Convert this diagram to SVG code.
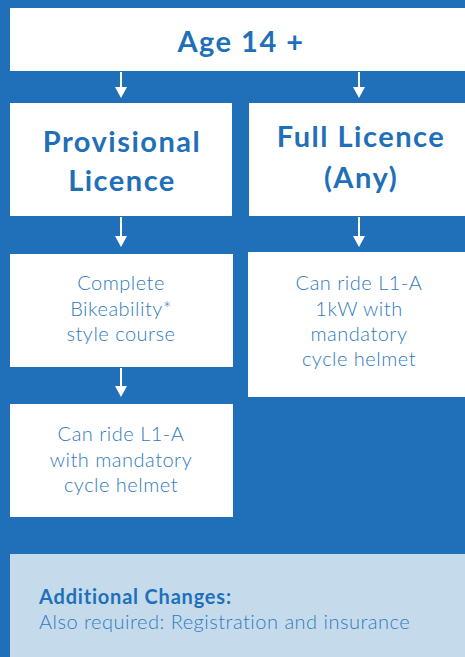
<svg xmlns="http://www.w3.org/2000/svg" width="465" height="657" viewBox="0 0 465 657">
<defs>
<style>
.box{fill:#ffffff}
.t{font-family:Lato,"Open Sans",sans-serif;fill:#1f70b8;text-anchor:middle}
.h{font-size:29px;font-weight:700;letter-spacing:1.5px}
.b{font-size:20px;font-weight:300;fill:#2f7bc0;letter-spacing:0.5px}
.c{stroke:#ffffff;stroke-width:2;fill:none}
.ah{fill:#ffffff}
</style>
</defs>
<rect x="0" y="0" width="465" height="657" fill="#1f70b8"/>
<g id="age">
<rect class="box" x="10" y="8" width="455" height="63"/>
<text class="t h" x="241" y="52">Age 14 +</text>
</g>
<g id="provisional">
<rect class="box" x="10" y="103" width="222" height="113"/>
<text class="t h" x="122" y="152">Provisional</text>
<text class="t h" x="122" y="191">Licence</text>
</g>
<g id="full">
<rect class="box" x="249" y="103" width="216" height="113"/>
<text class="t h" x="361" y="147">Full Licence</text>
<text class="t h" x="361" y="188">(Any)</text>
</g>
<g id="complete">
<rect class="box" x="10" y="254" width="223" height="113"/>
<text class="t b" x="121" y="290">Complete</text>
<text class="t b" x="121" y="316">Bikeability*</text>
<text class="t b" x="121" y="341">style course</text>
</g>
<g id="ride1kw">
<rect class="box" x="248" y="252" width="217" height="145"/>
<text class="t b" x="359" y="290">Can ride L1-A</text>
<text class="t b" x="359" y="316">1kW with</text>
<text class="t b" x="359" y="341">mandatory</text>
<text class="t b" x="359" y="366">cycle helmet</text>
</g>
<g id="ride">
<rect class="box" x="10" y="404" width="223" height="113"/>
<text class="t b" x="121" y="441">Can ride L1-A</text>
<text class="t b" x="121" y="467">with mandatory</text>
<text class="t b" x="121" y="492">cycle helmet</text>
</g>
<g id="additional">
<rect x="10" y="554" width="455" height="103" fill="#c5dbec"/>
<text x="39" y="604" style="font-family:Lato,'Open Sans',sans-serif;font-size:20px;font-weight:700;fill:#1f70b8;letter-spacing:0.8px">Additional Changes:</text>
<text x="39" y="629" style="font-family:Lato,'Open Sans',sans-serif;font-size:20px;font-weight:300;fill:#2f7bc0;letter-spacing:0.5px">Also required: Registration and insurance</text>
</g>
<g id="connectors">
<line class="c" x1="121" y1="72" x2="121" y2="88"/>
<polygon class="ah" points="115,87 127,87 121,98"/>
<line class="c" x1="359" y1="72" x2="359" y2="88"/>
<polygon class="ah" points="353,87 365,87 359,98"/>
<line class="c" x1="121" y1="217" x2="121" y2="237"/>
<polygon class="ah" points="115,236 127,236 121,247"/>
<line class="c" x1="359" y1="217" x2="359" y2="237"/>
<polygon class="ah" points="353,236 365,236 359,247"/>
<line class="c" x1="121" y1="368" x2="121" y2="387"/>
<polygon class="ah" points="115,386 127,386 121,397"/>
</g>
</svg>
